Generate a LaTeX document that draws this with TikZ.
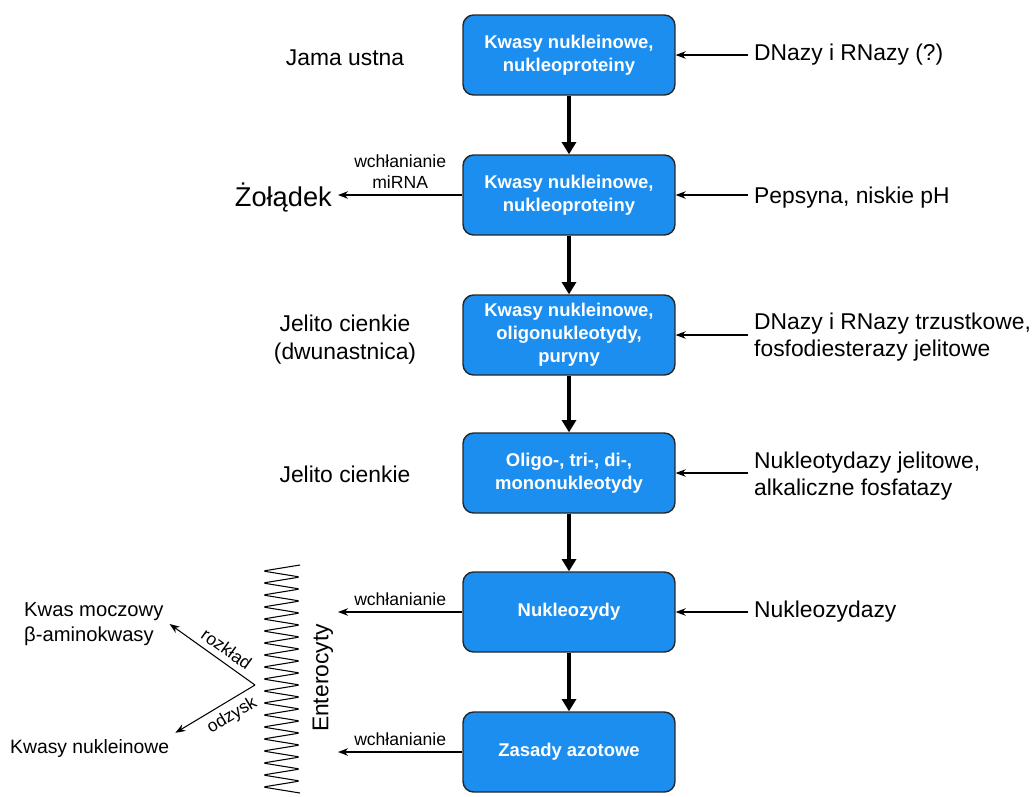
\documentclass[tikz,border=0pt]{standalone}
\usepackage{fontspec}
\setmainfont{Liberation Sans}
\usetikzlibrary{arrows.meta}
\definecolor{stageblue}{HTML}{1C8EF0}
\begin{document}
\begin{tikzpicture}[x=0.02cm, y=-0.02cm, line join=round, >=Stealth,
	stage/.style={draw=black!85, line width=0.8pt, fill=stageblue, rounded corners=6pt, minimum width=4.24cm, minimum height=1.6cm, text=white, align=center, font=\bfseries\fontsize{10.5}{13}\selectfont},
	place/.style={font=\fontsize{13}{16}\selectfont, align=center},
	enzyme/.style={anchor=west, font=\fontsize{13}{15.5}\selectfont, align=left},
	flow/.style={-{Triangle[length=7pt,width=8pt]}, line width=2.3pt},
	feed/.style={->, line width=0.6pt},
	note/.style={font=\fontsize{10}{12}\selectfont, align=center}]
	\useasboundingbox (0,0) rectangle (1034,796);
	% main chain
	\node[stage] (b1) at (569,55) {Kwasy nukleinowe,\\nukleoproteiny};
	\node[stage] (b2) at (569,195) {Kwasy nukleinowe,\\nukleoproteiny};
	\node[stage] (b3) at (569,335) {Kwasy nukleinowe,\\oligonukleotydy,\\puryny};
	\node[stage] (b4) at (569,473) {Oligo-, tri-, di-,\\mononukleotydy};
	\node[stage] (b5) at (569,612) {Nukleozydy};
	\node[stage] (b6) at (569,752) {Zasady azotowe};
	\foreach \a/\b in {b1/b2,b2/b3,b3/b4,b4/b5,b5/b6}
		\draw[flow] (\a) -- (\b);
	% enzymes
	\node[enzyme] (e1) at (748,55) {DNazy i RNazy (?)};
	\node[enzyme] (e2) at (748,198) {Pepsyna, niskie pH};
	\node[enzyme] (e3) at (748,337) {DNazy i RNazy trzustkowe,\\fosfodiesterazy jelitowe};
	\node[enzyme] (e4) at (748,476) {Nukleotydazy jelitowe,\\alkaliczne fosfatazy};
	\node[enzyme] (e5) at (748,612) {Nukleozydazy};
	\foreach \i in {1,...,5}
		\draw[feed] (e\i.west |- b\i.east) -- (b\i.east);
	% places
	\node[place] (p1) at (345,58) {Jama ustna};
	\node[place, anchor=east, font=\fontsize{15.5}{18}\selectfont] (p2) at (338,198) {Żołądek};
	\node[place] (p3) at (345,340) {Jelito cienkie\\(dwunastnica)};
	\node[place] (p4) at (345,474) {Jelito cienkie};
	\draw[feed] (b2.west) -- (p2.east |- b2.west) node[midway, above, note] {wchłanianie\\miRNA};
	% enterocytes
	\draw[line width=0.6pt, rounded corners=1.5pt] (300,565) \foreach \k in {1,...,19} { -- (263,565+12*\k-6) -- (300,565+12*\k) };
	\node[rotate=90, font=\fontsize{13}{15}\selectfont] (ent) at (323,678) {Enterocyty};
	\coordinate (in5) at (338,612);
	\coordinate (in6) at (338,752);
	\draw[feed] (b5.west) -- (in5) node[midway, above, note] {wchłanianie};
	\draw[feed] (b6.west) -- (in6) node[midway, above, note] {wchłanianie};
	% fate
	\coordinate (fork) at (255,685);
	\node[anchor=west, align=left, font=\fontsize{11.5}{14}\selectfont] (uric) at (18,624) {Kwas moczowy\\β-aminokwasy};
	\node[anchor=west, font=\fontsize{11}{13}\selectfont] (nucl) at (4,748) {Kwasy nukleinowe};
	\draw[feed] (fork) -- (uric.east) node[pos=0.42, sloped, above, note] {rozkład};
	\draw[feed] (fork) -- (nucl.north east) node[pos=0.38, sloped, below, note] {odzysk};
\end{tikzpicture}
\end{document}
